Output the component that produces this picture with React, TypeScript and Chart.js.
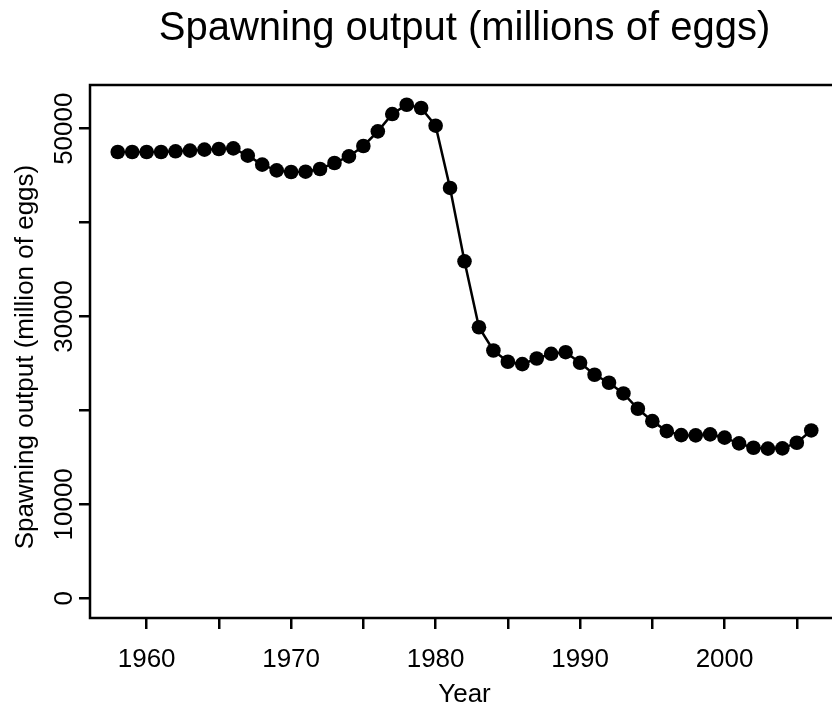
import React, { useEffect, useRef } from "react";
import { Chart, registerables } from "chart.js";

Chart.register(...registerables);

const years = [
  1958, 1959, 1960, 1961, 1962, 1963, 1964, 1965, 1966, 1967,
  1968, 1969, 1970, 1971, 1972, 1973, 1974, 1975, 1976, 1977,
  1978, 1979, 1980, 1981, 1982, 1983, 1984, 1985, 1986, 1987,
  1988, 1989, 1990, 1991, 1992, 1993, 1994, 1995, 1996, 1997,
  1998, 1999, 2000, 2001, 2002, 2003, 2004, 2005, 2006,
];

const spawningOutput = [
  47520, 47520, 47520, 47520, 47590, 47660, 47770, 47840, 47900, 47130,
  46170, 45560, 45390, 45420, 45710, 46350, 47050, 48160, 49710, 51560,
  52550, 52200, 50320, 43690, 35880, 28860, 26380, 25180, 24930, 25530,
  26030, 26200, 25070, 23800, 22950, 21810, 20180, 18860, 17800, 17370,
  17340, 17450, 17100, 16490, 16030, 15930, 15960, 16560, 17870,
];

const xTickValues = [1960, 1965, 1970, 1975, 1980, 1985, 1990, 1995, 2000, 2005];
const xTickLabels = ["1960", "", "1970", "", "1980", "", "1990", "", "2000", ""];
const yTickValues = [0, 10000, 20000, 30000, 40000, 50000];
const yTickLabels = ["0", "10000", "", "30000", "", "50000"];

const titleText = "Spawning output (millions of eggs)";
const xTitle = "Year";
const yTitle = "Spawning output (million of eggs)";

const FONT = "'Liberation Sans', Arial, Helvetica, sans-serif";

export default function App() {
  const canvasRef = useRef<HTMLCanvasElement | null>(null);

  useEffect(() => {
    const canvas = canvasRef.current;
    if (!canvas) return;

    const rStyle = {
      id: "rStyle",
      afterDraw(chart: any) {
        const ctx = chart.ctx;
        const { left, right, top, bottom } = chart.chartArea;
        const xs = chart.scales.x;
        const ys = chart.scales.y;
        ctx.save();
        ctx.strokeStyle = "#000";
        ctx.lineWidth = 2.5;
        ctx.strokeRect(left, top, right - left, bottom - top);

        ctx.fillStyle = "#000";
        ctx.font = `40px ${FONT}`;
        ctx.textAlign = "center";
        ctx.textBaseline = "alphabetic";
        ctx.fillText(titleText, (left + right) / 2, 40);

        ctx.font = `26px ${FONT}`;
        xTickValues.forEach((v, i) => {
          const lab = xTickLabels[i];
          if (!lab) return;
          ctx.fillText(lab, xs.getPixelForValue(v), 667);
        });
        ctx.fillText(xTitle, (left + right) / 2, 702);

        yTickValues.forEach((v, i) => {
          const lab = yTickLabels[i];
          if (!lab) return;
          ctx.save();
          ctx.translate(72, ys.getPixelForValue(v));
          ctx.rotate(-Math.PI / 2);
          ctx.fillText(lab, 0, 0);
          ctx.restore();
        });
        ctx.save();
        ctx.translate(33, 357);
        ctx.rotate(-Math.PI / 2);
        ctx.fillText(yTitle, 0, 0);
        ctx.restore();

        ctx.restore();
      },
    };

    const chart = new Chart(canvas, {
      type: "line",
      data: {
        datasets: [
          {
            data: years.map((y, i) => ({ x: y, y: spawningOutput[i] })),
            borderColor: "#000",
            backgroundColor: "#000",
            borderWidth: 2.5,
            pointRadius: 7.3,
            pointBorderWidth: 0,
            pointBackgroundColor: "#000",
            tension: 0,
            fill: false,
          },
        ],
      },
      options: {
        animation: false,
        responsive: false,
        devicePixelRatio: 1,
        layout: { padding: { top: 85, left: 0, right: 21, bottom: 0 } },
        plugins: {
          legend: { display: false },
          title: { display: false },
          tooltip: { enabled: false },
        },
        scales: {
          x: {
            type: "linear",
            min: 1956.08,
            max: 2007.92,
            afterBuildTicks: (s: any) => {
              s.ticks = xTickValues.map((v) => ({ value: v }));
            },
            afterFit: (s: any) => {
              s.height = 90;
            },
            ticks: { color: "rgba(0,0,0,0)", font: { size: 26 } },
            grid: {
              drawOnChartArea: false,
              drawTicks: true,
              tickLength: 11,
              color: "#000",
              lineWidth: 2.5,
            },
            border: { display: false },
          },
          y: {
            type: "linear",
            min: -2102,
            max: 54652,
            afterBuildTicks: (s: any) => {
              s.ticks = yTickValues.map((v) => ({ value: v }));
            },
            afterFit: (s: any) => {
              s.width = 90;
            },
            ticks: { color: "rgba(0,0,0,0)", font: { size: 26 } },
            grid: {
              drawOnChartArea: false,
              drawTicks: true,
              tickLength: 11,
              color: "#000",
              lineWidth: 2.5,
            },
            border: { display: false },
          },
        },
      },
      plugins: [rStyle],
    });

    return () => chart.destroy();
  }, []);

  return (
    <div
      style={{
        position: "fixed",
        left: 0,
        top: 0,
        width: 832,
        height: 708,
        overflow: "hidden",
        background: "#fff",
      }}
    >
      <canvas
        ref={canvasRef}
        width={860}
        height={708}
        style={{ width: 860, height: 708, display: "block" }}
      />
    </div>
  );
}
